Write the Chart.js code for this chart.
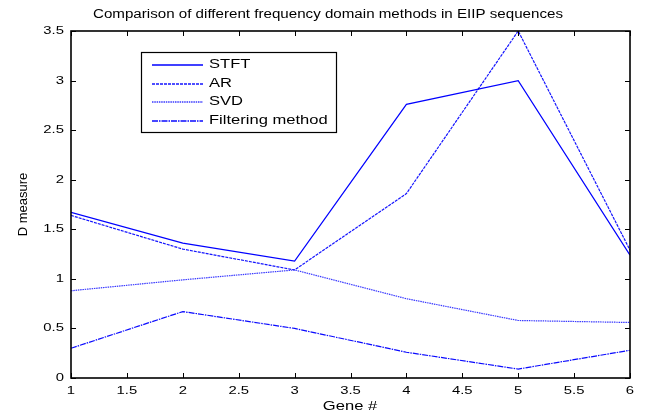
<html>
<head>
<meta charset="utf-8">
<title>Comparison of frequency domain methods</title>
<script src="https://cdn.jsdelivr.net/npm/chart.js@4.4.1/dist/chart.umd.min.js"></script>
<style>
  body { margin: 0; background: #fff; }
  .grafica { position: relative; width: 645px; height: 415px; }
</style>
<script>
// datos
var genes = [1, 2, 3, 4, 5, 6]
var valoresSTFT = [1.67, 1.36, 1.18, 2.76, 3.00, 1.24]
var valoresAR = [1.64, 1.30, 1.09, 1.86, 3.50, 1.29]
var valoresSVD = [0.88, 0.99, 1.09, 0.80, 0.58, 0.56]
var valoresFiltro = [0.30, 0.67, 0.50, 0.26, 0.09, 0.28]
var nombres = ['STFT', 'AR', 'SVD', 'Filtering method']

var titulo = 'Comparison of different frequency domain methods in EIIP sequences'
var tituloX = 'Gene #'
var tituloY = 'D measure'

var puntos = (valores) => genes.map((g, i) => ({ x: g, y: valores[i] }))
var fuente = 'Liberation Sans, Arial, sans-serif'
var estira = 1.35   // la figura original esta estirada en horizontal

// texto estirado en horizontal; alin = 'left' | 'center' | 'right'
var texto = (ctx, t, x, y, alin, k) => {
    var w = ctx.measureText(t).width * k
    var x0 = alin == 'center' ? x - w / 2 : (alin == 'right' ? x - w : x)
    ctx.save()
    ctx.translate(x0, y)
    ctx.scale(k, 1)
    ctx.textAlign = 'left'
    ctx.fillText(t, 0, 0)
    ctx.restore()
}

var etiqueta = (v) => String(Math.round(v * 10) / 10)

// marco, ticks hacia dentro, leyenda y textos al estilo matlab
var marcoMatlab = {
    id: 'marcoMatlab',
    afterDraw: (chart) => {
        var ctx = chart.ctx
        var area = chart.chartArea
        var sx = chart.scales.x
        var sy = chart.scales.y
        ctx.save()
        ctx.strokeStyle = '#000'
        ctx.lineWidth = 1
        ctx.setLineDash([])
        ctx.beginPath()
        sx.ticks.forEach((t) => {
            var px = Math.round(sx.getPixelForValue(t.value)) + 0.5
            ctx.moveTo(px, area.bottom); ctx.lineTo(px, area.bottom - 5)
            ctx.moveTo(px, area.top); ctx.lineTo(px, area.top + 5)
        })
        sy.ticks.forEach((t) => {
            var py = Math.round(sy.getPixelForValue(t.value)) + 0.5
            ctx.moveTo(area.left, py); ctx.lineTo(area.left + 5, py)
            ctx.moveTo(area.right, py); ctx.lineTo(area.right - 5, py)
        })
        ctx.stroke()
        ctx.lineWidth = 1.6
        ctx.strokeRect(area.left, area.top, area.right - area.left, area.bottom - area.top)

        // etiquetas de los ejes
        ctx.fillStyle = '#000'
        ctx.font = '11px ' + fuente
        ctx.textBaseline = 'middle'
        sx.ticks.forEach((t) => {
            texto(ctx, etiqueta(t.value), sx.getPixelForValue(t.value), 391, 'center', estira)
        })
        sy.ticks.forEach((t) => {
            texto(ctx, etiqueta(t.value), 64, sy.getPixelForValue(t.value), 'right', estira)
        })

        // leyenda
        var lx = 141, ly = 52, lw = 195, lh = 80
        ctx.fillStyle = '#fff'
        ctx.fillRect(lx, ly, lw, lh)
        ctx.strokeStyle = '#000'
        ctx.lineWidth = 1.2
        ctx.strokeRect(lx + 0.5, ly + 0.5, lw, lh)
        ctx.font = '12px ' + fuente
        chart.data.datasets.forEach((ds, i) => {
            var y = Math.round(ly + 13 + i * 18.7)
            ctx.strokeStyle = ds.borderColor
            ctx.lineWidth = 1.5
            ctx.setLineDash(ds.borderDash || [])
            ctx.beginPath()
            ctx.moveTo(152, y); ctx.lineTo(203, y)
            ctx.stroke()
            ctx.setLineDash([])
            ctx.fillStyle = '#000'
            texto(ctx, ds.label, 209, y, 'left', 1.38)
        })

        // titulos
        ctx.font = '12.5px ' + fuente
        var kt = 470 / ctx.measureText(titulo).width
        texto(ctx, titulo, 93, 15, 'left', kt)
        ctx.font = '12px ' + fuente
        texto(ctx, tituloX, 350, 407, 'center', 1.38)
        ctx.font = '13px ' + fuente
        ctx.translate(23, (area.top + area.bottom) / 2)
        ctx.rotate(-Math.PI / 2)
        ctx.textAlign = 'center'
        ctx.fillText(tituloY, 0, 0)
        ctx.restore()
    }
}

window.onload = () => {
    var contenedor = document.getElementById('graficaD')
    var estilos = [[], [3, 1], [1.5, 0.8], [6, 1, 1.5, 1]]
    var colores = ['#0000ff', '#1414ff', '#3a3aff', '#0a0aff']
    var series = [valoresSTFT, valoresAR, valoresSVD, valoresFiltro]
    new Chart(contenedor, {
        type: 'line',
        data: {
            datasets: series.map((v, i) => ({
                label: nombres[i],
                data: puntos(v),
                borderColor: colores[i],
                backgroundColor: 'rgba(0,0,0,0)',
                borderWidth: 1.2,
                borderDash: estilos[i],
                pointRadius: 0,
                tension: 0
            }))
        },
        options: {
            responsive: false,
            animation: false,
            layout: { padding: { top: 31, right: 15, left: 0, bottom: 0 } },
            plugins: { legend: { display: false }, title: { display: false }, tooltip: { enabled: false } },
            scales: {
                x: {
                    type: 'linear', min: 1, max: 6,
                    ticks: { stepSize: 0.5, display: false },
                    grid: { display: false, drawTicks: false },
                    border: { display: false },
                    afterFit: (s) => { s.height = 37 }
                },
                y: {
                    min: 0, max: 3.5,
                    ticks: { stepSize: 0.5, display: false },
                    grid: { display: false, drawTicks: false },
                    border: { display: false },
                    afterFit: (s) => { s.width = 71 }
                }
            }
        },
        plugins: [marcoMatlab]
    })
}
</script>
</head>
<body>
<div class="grafica">
  <canvas id="graficaD" width="645" height="415"></canvas>
</div>
</body>
</html>
